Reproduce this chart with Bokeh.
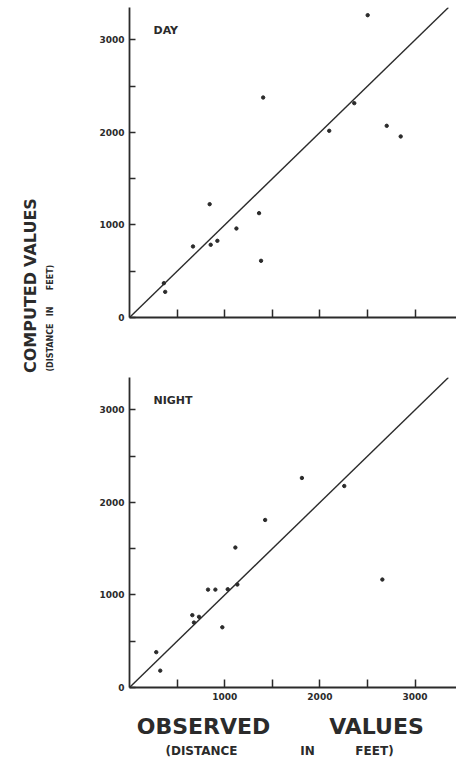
import math
from bokeh.plotting import figure
from bokeh.layouts import column, row
from bokeh.models import Range1d, FixedTicker, Label
from bokeh.embed import file_html
from bokeh.resources import INLINE

# ---- data ----
day_observed = [361, 375, 667, 842, 853, 923, 1123, 1361, 1382, 1404, 2098, 2361, 2502, 2702, 2849]
day_computed = [371, 277, 768, 1225, 786, 829, 962, 1128, 613, 2378, 2018, 2317, 3268, 2072, 1957]

night_observed = [281, 323, 660, 677, 730, 825, 902, 975, 1032, 1112, 1133, 1425, 1811, 2256, 2656]
night_computed = [382, 182, 782, 702, 764, 1058, 1058, 651, 1062, 1513, 1113, 1811, 2265, 2178, 1167]

identity_line = [0, 3350]          # line of perfect agreement (computed = observed)
x_major = [1000, 2000, 3000]
y_major = [0, 1000, 2000, 3000]
minor_ticks = [500, 1500, 2500]
tick_labels = {0: "0", 1000: "1000", 2000: "2000", 3000: "3000"}
x_max = 3435
y_max = 3351

FONT = "DejaVu Sans"
INK = "#2b2b2b"

PAGE_W, PAGE_H = 456, 769
LEFT_W = 95
RIGHT_W = PAGE_W - LEFT_W
PANEL_BORDER_L = 34
FRAME_LEFT = LEFT_W + PANEL_BORDER_L      # page x of the plot origin
FRAME_W = RIGHT_W - PANEL_BORDER_L


def make_panel(title, xs, ys, height, border_top, border_bottom, x_labels):
    p = figure(width=RIGHT_W, height=height, output_backend="svg", toolbar_location=None,
               x_range=Range1d(0, x_max), y_range=Range1d(0, y_max),
               min_border_left=PANEL_BORDER_L, min_border_right=0,
               min_border_top=border_top, min_border_bottom=border_bottom)
    p.outline_line_color = None
    p.grid.visible = False

    xa = p.xaxis[0]
    xa.ticker = FixedTicker(ticks=x_major, minor_ticks=minor_ticks)
    if x_labels:
        xa.major_label_overrides = {t: tick_labels[t] for t in x_major}
    else:
        xa.major_label_overrides = {t: "" for t in x_major}
    xa.major_tick_in = 8
    xa.major_tick_out = 0
    xa.minor_tick_in = 8
    xa.minor_tick_out = 0
    xa.major_label_standoff = 5

    ya = p.yaxis[0]
    ya.ticker = FixedTicker(ticks=y_major, minor_ticks=minor_ticks)
    ya.major_label_overrides = tick_labels
    ya.major_tick_in = 6
    ya.major_tick_out = 0
    ya.minor_tick_in = 6
    ya.minor_tick_out = 0
    ya.major_label_standoff = 5
    ya.major_label_orientation = "horizontal"

    for ax in (xa, ya):
        ax.axis_line_color = INK
        ax.axis_line_width = 1.8
        ax.major_tick_line_color = INK
        ax.major_tick_line_width = 1.5
        ax.minor_tick_line_color = INK
        ax.minor_tick_line_width = 1.5
        ax.major_label_text_font = FONT
        ax.major_label_text_font_style = "bold"
        ax.major_label_text_font_size = "9px"
        ax.major_label_text_color = INK

    p.line(identity_line, identity_line, line_color=INK, line_width=1.4)
    p.scatter(xs, ys, size=3.4, fill_color=INK, line_color=INK)

    p.add_layout(Label(x=0, y=0, x_offset=24, y_offset=287, text=title,
                       text_font=FONT, text_font_style="bold", text_font_size="11px",
                       text_color=INK, text_align="left", text_baseline="alphabetic"))
    return p


def blank(width, height, border_left=0):
    p = figure(width=width, height=height, output_backend="svg", toolbar_location=None,
               x_range=Range1d(0, width - border_left), y_range=Range1d(0, height),
               x_axis_type=None, y_axis_type=None,
               min_border=0, min_border_left=border_left, min_border_right=0,
               min_border_top=0, min_border_bottom=0)
    p.outline_line_color = None
    p.grid.visible = False
    return p


def word(p, text, x, y, size, angle=0.0):
    p.add_layout(Label(x=x, y=y, text=text, angle=angle,
                       text_font=FONT, text_font_style="bold", text_font_size=size,
                       text_color=INK, text_align="center", text_baseline="middle"))


top = make_panel("DAY", day_observed, day_computed, 376, 7, 59, False)
bottom = make_panel("NIGHT", night_observed, night_computed, 336, 1, 25, True)

# y-axis title column (pixel space, y measured from the bottom of the page)
ytitle = blank(LEFT_W, PAGE_H)
rot = math.pi / 2
word(ytitle, "VALUES", 30, PAGE_H - 232, "16px", rot)
word(ytitle, "COMPUTED", 30, PAGE_H - 322, "16px", rot)
word(ytitle, "FEET)", 50, PAGE_H - 277, "8px", rot)
word(ytitle, "IN", 50, PAGE_H - 311, "8px", rot)
word(ytitle, "(DISTANCE", 50, PAGE_H - 347, "8px", rot)

# x-axis title strip under the bottom panel (x measured from the plot origin)
XT_H = PAGE_H - 376 - 336
xtitle = blank(RIGHT_W, XT_H, PANEL_BORDER_L)
word(xtitle, "OBSERVED", 203 - FRAME_LEFT, PAGE_H - 726, "22px")
word(xtitle, "VALUES", 376 - FRAME_LEFT, PAGE_H - 726, "22px")
word(xtitle, "(DISTANCE", 201 - FRAME_LEFT, PAGE_H - 750, "12px")
word(xtitle, "IN", 307 - FRAME_LEFT, PAGE_H - 750, "12px")
word(xtitle, "FEET)", 374 - FRAME_LEFT, PAGE_H - 750, "12px")

layout = row(ytitle, column(top, bottom, xtitle, spacing=0), spacing=0)
open("out.html", "w").write(file_html(layout, INLINE))
